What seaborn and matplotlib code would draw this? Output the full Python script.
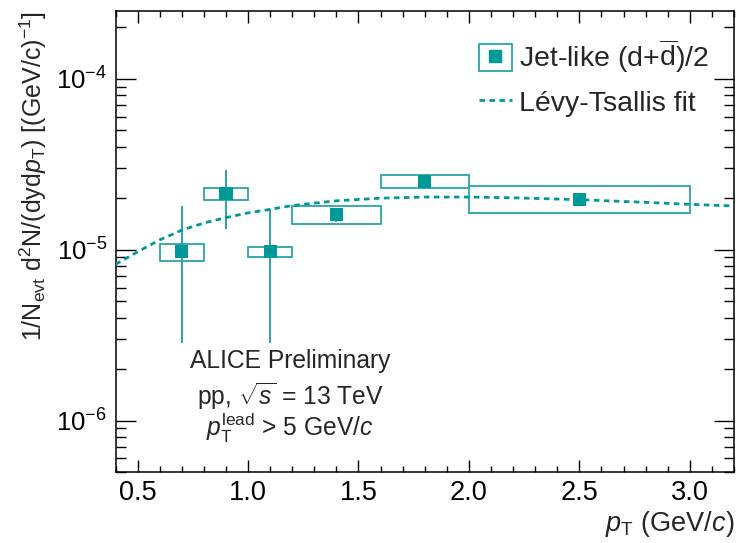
import numpy as np
import pandas as pd
import matplotlib
matplotlib.use("Agg")
import matplotlib.pyplot as plt
import seaborn as sns
from matplotlib.ticker import MultipleLocator, LogLocator, NullFormatter, FormatStrFormatter
from matplotlib.patches import Rectangle
from matplotlib.lines import Line2D
from matplotlib.legend_handler import HandlerTuple

# ---- data ----
pt = [0.7, 0.9, 1.1, 1.4, 1.8, 2.5]
bin_lo = [0.6, 0.8, 1.0, 1.2, 1.6, 2.0]
bin_hi = [0.8, 1.0, 1.2, 1.6, 2.0, 3.0]
yield_ = [9.7e-6, 2.13e-5, 9.7e-6, 1.60e-5, 2.49e-5, 1.97e-5]
stat_hi = [1.80e-5, 2.94e-5, 1.74e-5, 1.75e-5, 2.56e-5, 2.02e-5]
stat_lo = [2.86e-6, 1.32e-5, 2.86e-6, 1.45e-5, 2.42e-5, 1.92e-5]
sys_hi = [1.08e-5, 2.30e-5, 1.03e-5, 1.79e-5, 2.72e-5, 2.35e-5]
sys_lo = [8.57e-6, 1.96e-5, 9.10e-6, 1.42e-5, 2.28e-5, 1.63e-5]

fit_pt = [0.40, 0.50, 0.60, 0.70, 0.80, 0.90, 1.00, 1.10, 1.20, 1.40, 1.60,
          1.80, 2.00, 2.20, 2.50, 2.80, 3.00, 3.20]
fit_y = [8.2e-6, 9.7e-6, 1.14e-5, 1.30e-5, 1.43e-5, 1.54e-5, 1.64e-5, 1.72e-5,
         1.81e-5, 1.93e-5, 2.00e-5, 2.03e-5, 2.03e-5, 2.01e-5, 1.96e-5, 1.89e-5,
         1.84e-5, 1.80e-5]

legend_labels = ["Jet-like (d+$\\overline{\\mathrm{d}}$)/2", "Lévy-Tsallis fit"]
x_label = "$p_{\\mathrm{T}}$ (GeV/$c$)"
y_label = "1/N$_{\\mathrm{evt}}$ d$^{2}$N/(dyd$p_{\\mathrm{T}}$) [(GeV/c)$^{-1}$]"
annot = ["ALICE Preliminary", "pp, $\\sqrt{s}$ = 13 TeV",
         "$p_{\\mathrm{T}}^{\\mathrm{lead}}$ > 5 GeV/$c$"]

# ---- style ----
sns.set_theme(style="ticks")
plt.rcParams["font.family"] = ["Liberation Sans", "DejaVu Sans"]
plt.rcParams["mathtext.fontset"] = "custom"
plt.rcParams["mathtext.rm"] = "Liberation Sans"
plt.rcParams["mathtext.it"] = "Liberation Sans:italic"
plt.rcParams["mathtext.bf"] = "Liberation Sans:bold"
plt.rcParams["mathtext.sf"] = "Liberation Sans"

teal = "#00999A"
teal_l = "#2AA5A5"

fig = plt.figure(figsize=(7.39, 5.43), dpi=100)
ax = fig.add_axes([0.1563, 0.1308, 0.8369, 0.8495])

df = pd.DataFrame({"pt": pt, "y": yield_})
fdf = pd.DataFrame({"pt": fit_pt, "y": fit_y})

# systematic boxes
widths = np.array(bin_hi) - np.array(bin_lo)
centers = (np.array(bin_hi) + np.array(bin_lo)) / 2
ax.bar(centers, np.array(sys_hi) - np.array(sys_lo), bottom=sys_lo, width=widths,
       fill=False, edgecolor=teal_l, linewidth=1.3, zorder=3)
# statistical error bars
ax.vlines(pt, stat_lo, stat_hi, color=teal_l, linewidth=1.4, zorder=2)
# fit
sns.lineplot(data=fdf, x="pt", y="y", ax=ax, color=teal, linewidth=2.0,
             linestyle=(0, (2.0, 1.6)), sort=False, estimator=None, zorder=4)
# markers
sns.scatterplot(data=df, x="pt", y="y", ax=ax, marker="s", s=90, color=teal,
                edgecolor="none", linewidth=0, zorder=5)

ax.set_yscale("log")
ax.set_xlim(0.4, 3.2)
ax.set_ylim(5e-7, 2.5e-4)

ax.xaxis.set_major_locator(MultipleLocator(0.5))
ax.xaxis.set_minor_locator(MultipleLocator(0.1))
ax.xaxis.set_major_formatter(FormatStrFormatter("%.1f"))
ax.yaxis.set_major_locator(LogLocator(base=10))
ax.yaxis.set_minor_locator(LogLocator(base=10, subs=np.arange(2, 10)))
ax.yaxis.set_minor_formatter(NullFormatter())

for s in ax.spines.values():
    s.set_linewidth(1.1)
    s.set_color("black")
ax.tick_params(axis="both", which="both", direction="in", top=True, right=True,
               color="black", width=1.0, labelcolor="black")
ax.tick_params(axis="x", which="major", length=8.6, pad=6, labelsize=19.5)
ax.tick_params(axis="x", which="minor", length=4.3)
ax.tick_params(axis="y", which="major", length=14.4, pad=6, labelsize=18.5)
ax.tick_params(axis="y", which="minor", length=7.2)

ax.set_xlabel(x_label, fontsize=19.5, loc="right", labelpad=2)
ax.set_ylabel(y_label, fontsize=18, loc="top")
ax.yaxis.set_label_coords(-0.108, 1.0)

# annotation
ys = [0.240, 0.164, 0.095]
for t, yy in zip(annot, ys):
    ax.text(0.282, yy, t, transform=ax.transAxes, ha="center", va="center",
            fontsize=17.7)

# legend
box_h = Rectangle((0, 0), 1, 1, facecolor="none", edgecolor=teal_l, linewidth=1.3)
mk_h = Line2D([], [], marker="s", linestyle="none", color=teal, markersize=9)
ln_h = Line2D([], [], color=teal, linewidth=2.0, linestyle=(0, (2.0, 1.6)))
ax.legend([(box_h, mk_h), ln_h], legend_labels,
          handler_map={tuple: HandlerTuple(ndivide=1)},
          loc="upper left", bbox_to_anchor=(0.587, 0.940), frameon=False,
          fontsize=20.5, borderpad=0, borderaxespad=0, handlelength=1.18,
          handleheight=1.07, handletextpad=0.25, labelspacing=0.45)

fig.savefig("out.png", dpi=100)
